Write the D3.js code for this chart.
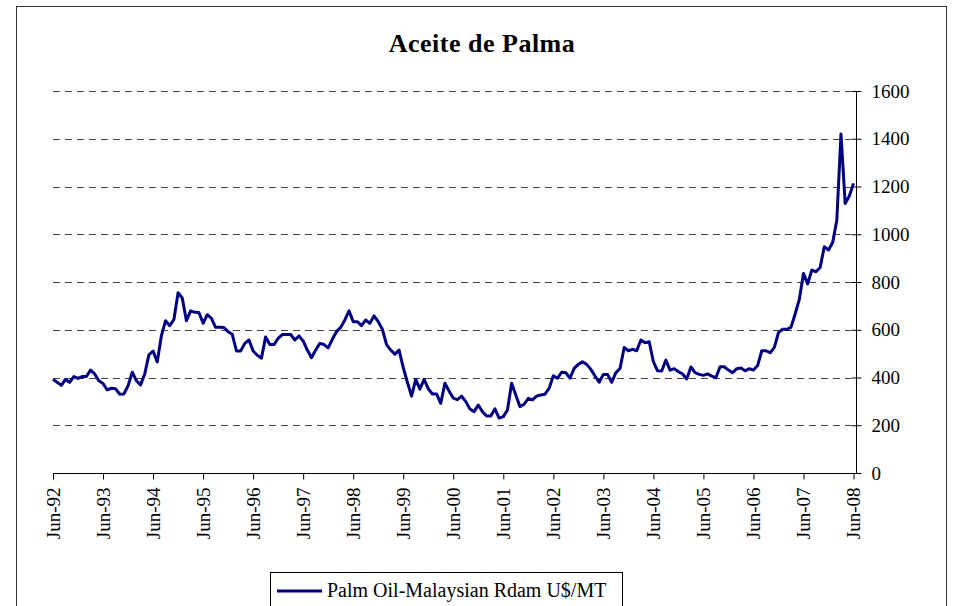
<!DOCTYPE html>
<html>
<head>
<meta charset="utf-8">
<script src="https://cdn.jsdelivr.net/npm/d3@7"></script>
<style>
  body { margin: 0; background: #fff; }
  svg, svg text { font-family: "Liberation Serif", "Times New Roman", serif; }
  svg { display: block; }
</style>
</head>
<body>
<div id="chart"></div>
<script>
// monthly prices, Jun-92 .. Jun-08 (US$/MT)
const prices = [
  392, 380, 367, 392, 380, 404, 396, 404, 404, 431, 415, 386,
  375, 348, 355, 353, 330, 331, 365, 422, 387, 369, 415, 495,
  511, 465, 575, 638, 617, 643, 755, 733, 638, 679, 673, 672,
  627, 663, 648, 610, 610, 609, 592, 581, 511, 511, 543, 557,
  511, 493, 481, 570, 538, 538, 564, 580, 580, 580, 557, 574,
  553, 515, 483, 515, 543, 538, 524, 560, 592, 610, 641, 679,
  634, 634, 617, 641, 627, 658, 634, 602, 538, 515, 498, 515,
  442, 380, 322, 392, 351, 392, 353, 331, 331, 292, 376, 343,
  314, 307, 322, 299, 268, 257, 285, 257, 239, 239, 269, 230,
  236, 264, 376, 327, 278, 288, 313, 306, 322, 327, 330, 355,
  407, 397, 422, 420, 397, 438, 455, 466, 455, 434, 406, 380,
  413, 413, 380, 420, 438, 526, 512, 518, 512, 557, 546, 550,
  466, 428, 427, 473, 431, 437, 424, 415, 394, 444, 420, 413,
  409, 415, 406, 399, 445, 445, 431, 420, 437, 440, 428, 437,
  431, 450, 512, 512, 504, 525, 588, 602, 602, 610, 666, 727,
  836, 792, 850, 843, 861, 948, 934, 965, 1060, 1420, 1129, 1160,
  1213
];
const tickLabels = ['Jun-92', 'Jun-93', 'Jun-94', 'Jun-95', 'Jun-96', 'Jun-97', 'Jun-98', 'Jun-99',
  'Jun-00', 'Jun-01', 'Jun-02', 'Jun-03', 'Jun-04', 'Jun-05', 'Jun-06', 'Jun-07', 'Jun-08'];
const yTicks = [0, 200, 400, 600, 800, 1000, 1200, 1400, 1600];
const seriesName = 'Palm Oil-Malaysian Rdam U$/MT';
const title = 'Aceite de Palma';

const width = 953, height = 606;
const plotLeft = 53, plotRight = 857, plotTop = 91, plotBottom = 473;

const svg = d3.select('#chart').append('svg')
  .attr('width', width)
  .attr('height', height);

// chart frame
svg.append('rect')
  .attr('x', 16.5).attr('y', 6.5)
  .attr('width', 930).attr('height', 640)
  .attr('fill', 'none')
  .attr('stroke', '#333');

const x = d3.scaleLinear()
  .domain([0, prices.length - 1])
  .range([plotLeft, 853.5]);
const y = d3.scaleLinear()
  .domain([0, 1600])
  .range([plotBottom, plotTop]);

// gridlines
svg.append('g')
  .selectAll('line')
  .data(yTicks.filter(d => d > 0))
  .enter()
  .append('line')
  .attr('x1', plotLeft)
  .attr('x2', plotRight - 6)
  .attr('y1', d => Math.round(y(d)) + 0.5)
  .attr('y2', d => Math.round(y(d)) + 0.5)
  .attr('stroke', '#444')
  .attr('stroke-dasharray', '7,5');

// x axis
const xAxis = svg.append('g')
  .attr('transform', `translate(0, ${plotBottom + 0.5})`)
  .call(d3.axisBottom(x)
    .tickValues(tickLabels.map((d, i) => i * 12))
    .tickFormat((d, i) => tickLabels[i])
    .tickSizeInner(6)
    .tickSizeOuter(0));
xAxis.attr('font-family', null);
xAxis.select('.domain').attr('d', `M${plotLeft},0H${plotRight}`);
xAxis.selectAll('text')
  .attr('font-size', 19)
  .attr('fill', '#000')
  .style('text-anchor', 'end')
  .attr('transform', 'rotate(-90)')
  .attr('x', -14)
  .attr('y', 0)
  .attr('dy', '0.33em');

// y axis on the right
const yAxis = svg.append('g')
  .attr('transform', `translate(${plotRight - 0.5}, 0)`)
  .call(d3.axisRight(y)
    .tickValues(yTicks)
    .tickFormat(d3.format('d'))
    .tickSizeInner(5)
    .tickSizeOuter(0)
    .tickPadding(10));
yAxis.attr('font-family', null);
yAxis.selectAll('.tick line').attr('x1', -5);
yAxis.select('.domain').attr('d', `M0,${plotTop}V${plotBottom}`);
yAxis.selectAll('text')
  .attr('font-size', 19)
  .attr('fill', '#000');

// price line
const line = d3.line()
  .x((d, i) => x(i))
  .y(d => y(d));
svg.append('path')
  .datum(prices)
  .attr('d', line)
  .attr('fill', 'none')
  .attr('stroke', '#000080')
  .attr('stroke-width', 3)
  .attr('stroke-linejoin', 'round');

// title
svg.append('text')
  .attr('x', 482)
  .attr('y', 52)
  .attr('text-anchor', 'middle')
  .attr('font-size', 26)
  .attr('font-weight', 'bold')
  .attr('letter-spacing', 0.5)
  .text(title);

// legend
const legend = svg.append('g');
legend.append('rect')
  .attr('x', 270.5).attr('y', 572.5)
  .attr('width', 352).attr('height', 60)
  .attr('fill', '#fff')
  .attr('stroke', '#000');
legend.append('line')
  .attr('x1', 277).attr('x2', 322)
  .attr('y1', 591).attr('y2', 591)
  .attr('stroke', '#000080')
  .attr('stroke-width', 3);
legend.append('text')
  .attr('x', 327)
  .attr('y', 597)
  .attr('font-size', 20)
  .text(seriesName);
</script>
</body>
</html>
